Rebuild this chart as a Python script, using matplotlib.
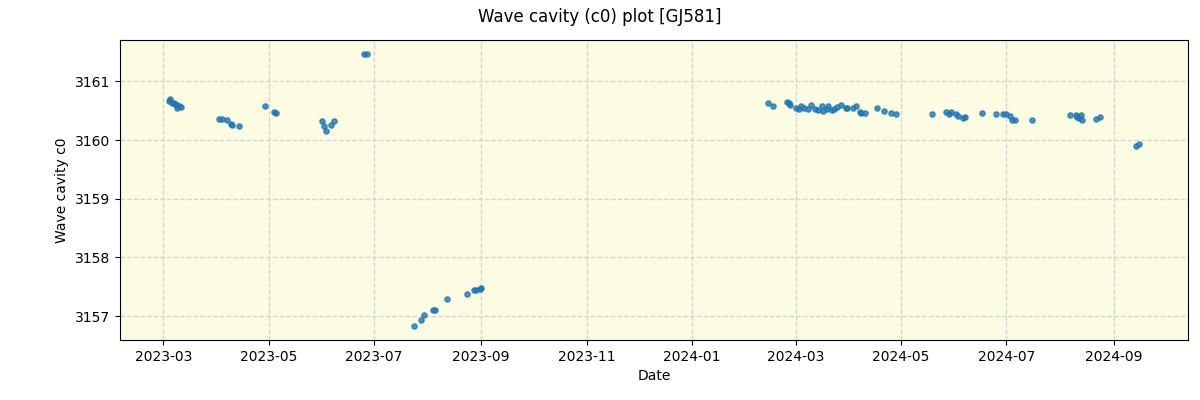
import matplotlib
matplotlib.use("Agg")
import matplotlib.pyplot as plt
import matplotlib.dates as mdates
import pandas as pd
import numpy as np

dates_2023 = ["2023-03-04", "2023-03-05", "2023-03-06", "2023-03-07", "2023-03-08",
              "2023-03-09", "2023-03-09", "2023-03-10", "2023-03-11",
              "2023-04-02", "2023-04-04", "2023-04-07", "2023-04-09", "2023-04-10",
              "2023-04-14", "2023-04-29", "2023-05-04", "2023-05-05",
              "2023-06-01", "2023-06-02", "2023-06-03", "2023-06-06", "2023-06-08",
              "2023-06-25", "2023-06-27",
              "2023-07-24", "2023-07-28", "2023-07-30", "2023-08-04", "2023-08-05",
              "2023-08-12", "2023-08-24", "2023-08-28", "2023-08-29", "2023-08-31",
              "2023-09-01"]
c0_2023 = [3160.67, 3160.704, 3160.636, 3160.624, 3160.62,
           3160.595, 3160.55, 3160.578, 3160.568,
           3160.362, 3160.362, 3160.345, 3160.282, 3160.26,
           3160.243, 3160.585, 3160.482, 3160.465,
           3160.328, 3160.243, 3160.157, 3160.253, 3160.328,
           3161.474, 3161.474,
           3156.824, 3156.926, 3157.012, 3157.097, 3157.097,
           3157.285, 3157.371, 3157.45, 3157.45, 3157.456,
           3157.474]

dates_2024 = ["2024-02-14", "2024-02-17", "2024-02-25", "2024-02-26", "2024-02-27",
              "2024-03-01", "2024-03-03", "2024-03-04", "2024-03-06", "2024-03-08",
              "2024-03-10", "2024-03-12", "2024-03-14", "2024-03-16", "2024-03-17",
              "2024-03-19", "2024-03-20", "2024-03-22", "2024-03-23", "2024-03-25",
              "2024-03-27", "2024-03-30", "2024-03-31", "2024-04-03", "2024-04-05",
              "2024-04-07", "2024-04-08", "2024-04-10", "2024-04-17", "2024-04-21",
              "2024-04-25", "2024-04-28", "2024-05-19", "2024-05-27", "2024-05-29",
              "2024-05-30", "2024-06-02", "2024-06-03", "2024-06-06", "2024-06-07",
              "2024-06-17", "2024-06-25", "2024-06-29", "2024-07-01", "2024-07-03",
              "2024-07-04", "2024-07-06", "2024-07-16", "2024-08-07", "2024-08-10",
              "2024-08-11", "2024-08-12", "2024-08-13", "2024-08-14", "2024-08-22",
              "2024-08-24", "2024-09-14", "2024-09-16"]
c0_2024 = [3160.636, 3160.585, 3160.641, 3160.624, 3160.602,
           3160.55, 3160.533, 3160.573, 3160.55, 3160.533,
           3160.59, 3160.533, 3160.516, 3160.573, 3160.499,
           3160.526, 3160.585, 3160.516, 3160.533, 3160.556,
           3160.59, 3160.55, 3160.55, 3160.55, 3160.573,
           3160.482, 3160.465, 3160.465, 3160.55, 3160.499,
           3160.465, 3160.448, 3160.448, 3160.482, 3160.448,
           3160.482, 3160.448, 3160.414, 3160.379, 3160.397,
           3160.465, 3160.448, 3160.448, 3160.448, 3160.414,
           3160.345, 3160.345, 3160.345, 3160.431, 3160.431,
           3160.397, 3160.379, 3160.431, 3160.345, 3160.362,
           3160.397, 3159.901, 3159.935]

dates = pd.to_datetime(dates_2023 + dates_2024)
c0 = np.array(c0_2023 + c0_2024)

fig, ax = plt.subplots(figsize=(12, 4), dpi=100)
fig.subplots_adjust(left=0.1, right=0.99, top=0.9, bottom=0.15)
ax.set_facecolor("#fcfce3")
ax.scatter(dates, c0, s=14, color="tab:blue", alpha=0.8, zorder=3)
ax.grid(True, linestyle="--", color="lightgray", linewidth=0.9)
ax.set_axisbelow(True)

ax.xaxis.set_major_locator(mdates.MonthLocator(bymonth=[1, 3, 5, 7, 9, 11]))
ax.xaxis.set_major_formatter(mdates.DateFormatter("%Y-%m"))

ax.set_xlabel("Date")
ax.set_ylabel("Wave cavity c0")
fig.suptitle("Wave cavity (c0) plot [GJ581]", fontsize=12)

plt.savefig("out.png")
